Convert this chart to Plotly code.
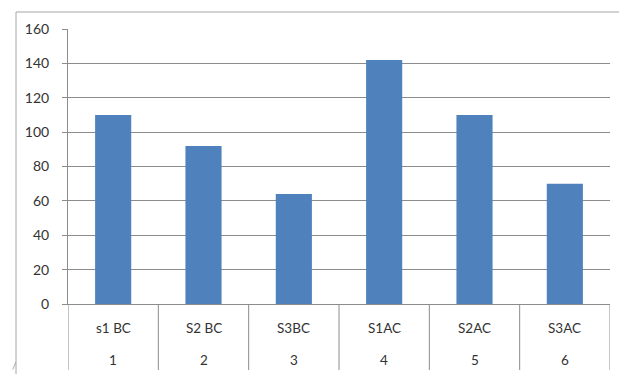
import plotly.graph_objects as go

categories = ["s1 BC", "S2 BC", "S3BC", "S1AC", "S2AC", "S3AC"]
group_labels = ["1", "2", "3", "4", "5", "6"]
values = [110, 92, 64, 142, 110, 70]
y_ticks = [0, 20, 40, 60, 80, 100, 120, 140, 160]

W, H = 619, 374
ML, MR, MT, MB = 68, 9, 29, 70
PW, PH = W - ML - MR, H - MT - MB

def px_x(px):
    return (px - ML) / PW

def px_y(py):
    return (H - MB - py) / PH

FONT = "Lato"
GRID = "#8c8c8c"

xs = list(range(len(categories)))
fig = go.Figure()
fig.add_trace(go.Bar(x=xs, y=values, width=0.4, marker=dict(color="#4F81BD", line=dict(width=0)),
                     hoverinfo="skip"))

shapes = []
# outer chart border
shapes.append(dict(type="rect", xref="paper", yref="paper",
                   x0=px_x(16), x1=px_x(W + 10), y0=px_y(H + 10), y1=px_y(12),
                   line=dict(color="#a6a6a6", width=1), layer="below"))
# category dividers
for i in range(len(categories) + 1):
    shapes.append(dict(type="line", xref="x", yref="paper",
                       x0=i - 0.5, x1=i - 0.5, y0=0, y1=px_y(370),
                       line=dict(color=GRID, width=1)))

annotations = []
for i, (c, g) in enumerate(zip(categories, group_labels)):
    annotations.append(dict(x=i, y=px_y(328), xref="x", yref="paper", text=c, showarrow=False,
                            font=dict(family=FONT, size=13.5, color="#333333"), yanchor="middle"))
    annotations.append(dict(x=i, y=px_y(360), xref="x", yref="paper", text=g, showarrow=False,
                            font=dict(family=FONT, size=13.5, color="#333333"), yanchor="middle"))
annotations.append(dict(x=px_x(10), y=px_y(365), xref="paper", yref="paper", text="/", showarrow=False,
                        font=dict(family=FONT, size=10, color="#999999"), yanchor="middle"))

fig.update_layout(
    width=W, height=H,
    margin=dict(l=ML, r=MR, t=MT, b=MB, pad=0),
    paper_bgcolor="white", plot_bgcolor="white",
    showlegend=False,
    bargap=0.6,
    xaxis=dict(range=[-0.5, len(categories) - 0.5], showticklabels=False, showgrid=False,
               zeroline=False, showline=True, linecolor=GRID, linewidth=1, ticks="", fixedrange=True),
    yaxis=dict(range=[0, 160], tickvals=y_ticks, showgrid=True, gridcolor=GRID, gridwidth=1,
               zeroline=False, showline=True, linecolor=GRID, linewidth=1,
               ticks="outside", ticklen=5, tickcolor=GRID, ticklabelstandoff=10,
               tickfont=dict(family=FONT, size=14, color="#333333"), fixedrange=True),
    shapes=shapes,
    annotations=annotations,
)

fig.write_html("out.html")
